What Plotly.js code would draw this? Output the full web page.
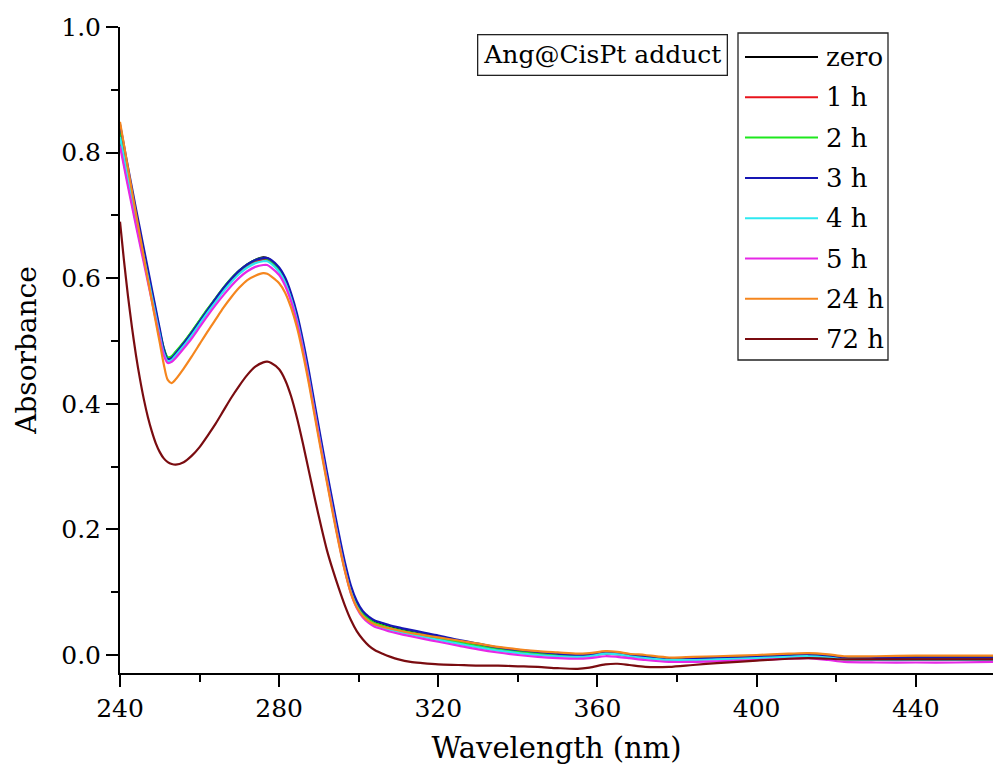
<!DOCTYPE html>
<html>
<head>
<meta charset="utf-8">
<script src="https://cdn.plot.ly/plotly-3.0.1.min.js"></script>
<style>html,body{margin:0;padding:0;background:#fff;}#chart{width:993px;height:774px;}</style>
</head>
<body>
<div id="chart"></div>
<script>
// Wavelength grid (nm)
const wavelength = [
  240,241,242,243,244,245,246,247,248,249,
  250,251,252,253,254,256,258,260,262,264,
  266,268,270,272,274,276,277,278,280,281.5,
  283,284.5,286,287.5,289,290.5,292,293.5,295,296.5,
  298,299.5,301,302.5,304,306,308,310,313,316,
  320,325,330,335,340,345,350,355,358,362,
  365,368,372,378,384,390,400,408,413,418,
  422,430,440,450,460
];

const seriesNames = ["zero","1 h","2 h","3 h","4 h","5 h","24 h","72 h"];
const seriesColors = ["#000000","#e8141c","#1ee81e","#1616b4","#2ee8f0","#e628e6","#f5861e","#7a0c10"];

const absZero = [
  0.830,0.797,0.764,0.732,0.700,0.669,0.638,0.607,0.576,0.545,
  0.514,0.487,0.473,0.475,0.482,0.497,0.514,0.532,0.550,0.567,
  0.584,0.599,0.612,0.622,0.629,0.633,0.632,0.628,0.615,0.598,
  0.572,0.538,0.494,0.444,0.390,0.337,0.285,0.235,0.186,0.142,
  0.106,0.082,0.067,0.058,0.052,0.048,0.044,0.041,0.037,0.033,
  0.028,0.022,0.016,0.011,0.007,0.004,0.002,0.000,0.001,0.004,
  0.003,0.000,-0.002,-0.006,-0.005,-0.004,-0.002,0.000,0.001,-0.001,
  -0.004,-0.004,-0.003,-0.003,-0.003
];
const abs1h = [
  0.815,0.783,0.751,0.720,0.689,0.659,0.629,0.599,0.569,0.539,
  0.509,0.482,0.469,0.471,0.478,0.494,0.511,0.529,0.547,0.564,
  0.581,0.596,0.609,0.619,0.626,0.630,0.629,0.625,0.612,0.595,
  0.569,0.535,0.491,0.441,0.387,0.334,0.282,0.232,0.183,0.139,
  0.103,0.079,0.064,0.056,0.050,0.046,0.042,0.039,0.035,0.031,
  0.026,0.020,0.014,0.009,0.005,0.002,0.000,-0.002,-0.001,0.002,
  0.001,-0.002,-0.004,-0.007,-0.007,-0.006,-0.004,-0.002,-0.001,-0.003,
  -0.006,-0.006,-0.005,-0.005,-0.005
];
const abs2h = [
  0.835,0.801,0.768,0.735,0.703,0.671,0.640,0.609,0.578,0.547,
  0.516,0.489,0.474,0.476,0.483,0.498,0.515,0.533,0.551,0.568,
  0.585,0.600,0.612,0.622,0.629,0.632,0.631,0.627,0.614,0.597,
  0.571,0.537,0.493,0.443,0.389,0.336,0.284,0.234,0.185,0.141,
  0.105,0.081,0.066,0.057,0.051,0.047,0.043,0.040,0.036,0.032,
  0.027,0.021,0.015,0.010,0.006,0.003,0.001,-0.001,0.000,0.003,
  0.002,-0.001,-0.003,-0.006,-0.006,-0.005,-0.003,-0.001,0.000,-0.002,
  -0.005,-0.005,-0.004,-0.004,-0.004
];
const abs3h = [
  0.845,0.811,0.777,0.744,0.711,0.679,0.647,0.615,0.583,0.551,
  0.519,0.488,0.471,0.473,0.480,0.496,0.513,0.531,0.549,0.567,
  0.584,0.599,0.612,0.622,0.629,0.632,0.632,0.629,0.617,0.601,
  0.576,0.543,0.500,0.451,0.397,0.344,0.292,0.242,0.193,0.148,
  0.111,0.086,0.070,0.061,0.055,0.051,0.047,0.044,0.040,0.036,
  0.031,0.024,0.018,0.012,0.008,0.005,0.002,0.000,0.001,0.004,
  0.003,0.000,-0.003,-0.007,-0.006,-0.005,-0.003,-0.001,0.000,-0.002,
  -0.005,-0.005,-0.004,-0.004,-0.004
];
const abs4h = [
  0.825,0.792,0.759,0.727,0.695,0.664,0.633,0.602,0.571,0.540,
  0.509,0.481,0.468,0.470,0.477,0.492,0.509,0.527,0.545,0.562,
  0.579,0.594,0.607,0.617,0.624,0.627,0.627,0.623,0.610,0.593,
  0.567,0.533,0.489,0.439,0.385,0.332,0.280,0.230,0.181,0.137,
  0.101,0.077,0.062,0.054,0.048,0.044,0.040,0.037,0.033,0.029,
  0.024,0.018,0.012,0.007,0.003,0.000,-0.002,-0.003,-0.002,0.002,
  0.001,-0.002,-0.005,-0.008,-0.008,-0.007,-0.005,-0.003,-0.002,-0.004,
  -0.007,-0.008,-0.008,-0.008,-0.008
];
const abs5h = [
  0.810,0.778,0.746,0.715,0.684,0.654,0.624,0.594,0.564,0.534,
  0.504,0.477,0.465,0.467,0.473,0.488,0.504,0.522,0.540,0.557,
  0.573,0.588,0.601,0.611,0.618,0.621,0.621,0.617,0.605,0.588,
  0.563,0.529,0.486,0.436,0.383,0.330,0.278,0.228,0.179,0.135,
  0.099,0.075,0.060,0.051,0.045,0.041,0.037,0.034,0.030,0.026,
  0.021,0.015,0.009,0.004,0.000,-0.003,-0.005,-0.006,-0.005,-0.002,
  -0.003,-0.005,-0.008,-0.011,-0.011,-0.010,-0.008,-0.006,-0.005,-0.008,
  -0.011,-0.012,-0.012,-0.012,-0.011
];
const abs24h = [
  0.849,0.812,0.775,0.739,0.703,0.668,0.633,0.598,0.564,0.530,
  0.497,0.463,0.438,0.433,0.439,0.456,0.475,0.495,0.515,0.534,
  0.553,0.570,0.585,0.597,0.604,0.608,0.607,0.603,0.592,0.577,
  0.553,0.521,0.479,0.431,0.378,0.326,0.275,0.225,0.177,0.134,
  0.099,0.076,0.062,0.054,0.049,0.045,0.042,0.039,0.035,0.032,
  0.028,0.023,0.018,0.013,0.009,0.006,0.004,0.002,0.003,0.006,
  0.005,0.002,0.000,-0.004,-0.003,-0.002,0.000,0.002,0.003,0.001,
  -0.002,-0.002,-0.001,-0.001,-0.001
];
const abs72h = [
  0.690,0.628,0.572,0.522,0.478,0.440,0.407,0.379,0.356,0.337,
  0.323,0.313,0.307,0.304,0.303,0.307,0.317,0.331,0.349,0.368,
  0.389,0.410,0.429,0.446,0.459,0.466,0.467,0.465,0.455,0.438,
  0.412,0.377,0.336,0.292,0.248,0.206,0.167,0.135,0.106,0.079,
  0.056,0.038,0.025,0.015,0.008,0.002,-0.003,-0.007,-0.011,-0.013,
  -0.015,-0.016,-0.017,-0.017,-0.018,-0.019,-0.021,-0.022,-0.020,-0.015,
  -0.014,-0.016,-0.019,-0.019,-0.016,-0.013,-0.009,-0.006,-0.005,-0.006,
  -0.007,-0.007,-0.007,-0.007,-0.007
];

const seriesValues = [absZero, abs1h, abs2h, abs3h, abs4h, abs5h, abs24h, abs72h];

const FONT = "DejaVu Serif, Liberation Serif, serif";

const traces = seriesValues.map((vals, i) => ({
  type: "scatter",
  mode: "lines",
  x: wavelength,
  y: vals,
  name: seriesNames[i],
  line: {color: seriesColors[i], width: 2.2, shape: "spline", smoothing: 0.8},
  showlegend: false,
  hoverinfo: "x+y+name"
}));

// plot area geometry in pixels
const W = 993, H = 774, ML = 120, MR = 0, MT = 27, MB = 101;
const PW = W - ML - MR, PH = H - MT - MB;
const px = x => (x - ML) / PW;
const py = y => (H - MB - y) / PH;

// custom legend (long sample lines like the original)
const legTop = 57, legStep = 40.3;
const shapes = [{
  type: "rect", xref: "paper", yref: "paper",
  x0: px(738), x1: px(888), y0: py(360), y1: py(33),
  line: {color: "#222", width: 1.3}, fillcolor: "rgba(0,0,0,0)"
}];
const annotations = [{
  xref: "paper", yref: "paper", x: px(602), y: py(55),
  xanchor: "center", yanchor: "middle", showarrow: false,
  text: "Ang@CisPt adduct", font: {family: FONT, size: 25, color: "#000"},
  bordercolor: "#222", borderwidth: 1.3, borderpad: 5, bgcolor: "#fff"
}];
seriesNames.forEach((nm, i) => {
  const yy = legTop + i * legStep;
  shapes.push({
    type: "line", xref: "paper", yref: "paper",
    x0: px(745), x1: px(818), y0: py(yy), y1: py(yy),
    line: {color: seriesColors[i], width: 2}
  });
  annotations.push({
    xref: "paper", yref: "paper", x: px(824), y: py(yy),
    xanchor: "left", yanchor: "middle", showarrow: false,
    text: nm, font: {family: FONT, size: 26, color: "#000"}
  });
});

const layout = {
  width: W, height: H,
  margin: {l: ML, r: MR, t: MT, b: MB, pad: 0},
  paper_bgcolor: "#fff", plot_bgcolor: "#fff",
  font: {family: FONT, color: "#000"},
  showlegend: false,
  xaxis: {
    range: [240, 459.4], showgrid: false, zeroline: false,
    showline: true, linecolor: "#000", linewidth: 2,
    ticks: "outside", ticklen: 12, tickwidth: 2, tickcolor: "#000",
    tick0: 240, dtick: 40,
    minor: {dtick: 20, tick0: 240, ticks: "outside", ticklen: 7, tickwidth: 2, tickcolor: "#000", showgrid: false},
    tickfont: {family: FONT, size: 25, color: "#000"},
    title: {text: "Wavelength (nm)", font: {family: FONT, size: 29, color: "#000"}, standoff: 16}
  },
  yaxis: {
    range: [-0.0287, 1.0], showgrid: false, zeroline: false,
    showline: true, linecolor: "#000", linewidth: 2,
    ticks: "outside", ticklen: 12, tickwidth: 2, tickcolor: "#000",
    tick0: 0, dtick: 0.2, tickformat: ".1f",
    minor: {dtick: 0.1, tick0: 0, ticks: "outside", ticklen: 7, tickwidth: 2, tickcolor: "#000", showgrid: false},
    tickfont: {family: FONT, size: 25, color: "#000"},
    title: {text: "Absorbance", font: {family: FONT, size: 28, color: "#000"}, standoff: 16}
  },
  shapes: shapes,
  annotations: annotations
};

Plotly.newPlot("chart", traces, layout, {displayModeBar: false, staticPlot: true});
</script>
</body>
</html>
